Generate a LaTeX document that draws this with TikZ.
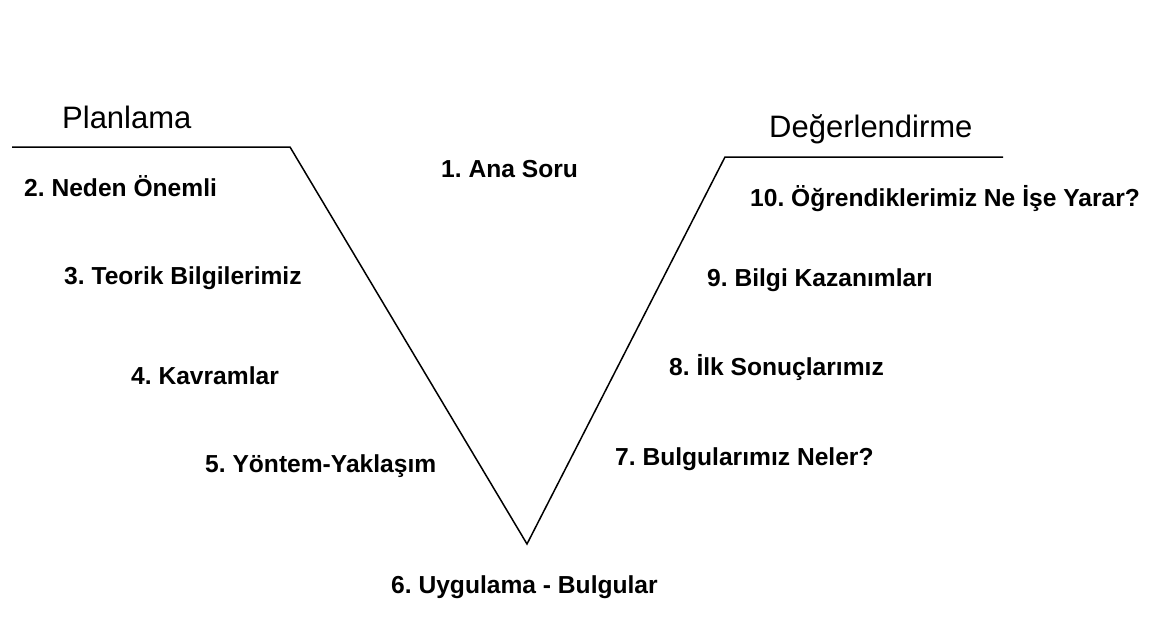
\documentclass[tikz,border=0pt]{standalone}
\usepackage{fontspec}
\setmainfont{Liberation Sans}
\frenchspacing
\begin{document}
\begin{tikzpicture}[x=1pt,y=-1pt,
  item/.style={anchor=base west,inner sep=0pt,font=\fontsize{24.6}{28}\selectfont\bfseries},
  head/.style={anchor=base west,inner sep=0pt,font=\fontsize{31}{34}\selectfont},
  vline/.style={draw=black,line width=1.5pt,line join=miter}]
\useasboundingbox[fill=white] (0,0) rectangle (1157,635);
\coordinate (p1) at (12,147);
\coordinate (p2) at (290,147);
\coordinate (p3) at (527,544);
\coordinate (p4) at (725,157);
\coordinate (p5) at (1003,157);
\draw[vline] (p1) -- (p2) -- (p3) -- (p4) -- (p5);
\node[head] (plan) at (62,128) {Planlama};
\node[head] (deg) at (769,137) {Değerlendirme};
\node[item] (n1) at (441,177) {1. Ana Soru};
\node[item] (n2) at (24,196) {2. Neden Önemli};
\node[item] (n3) at (64,284) {3. Teorik Bilgilerimiz};
\node[item] (n4) at (131,384) {4. Kavramlar};
\node[item] (n5) at (205,472) {5. Yöntem-Yaklaşım};
\node[item] (n6) at (391,593) {6. Uygulama - Bulgular};
\node[item] (n7) at (615,465) {7. Bulgularımız Neler?};
\node[item] (n8) at (669,375) {8. İlk Sonuçlarımız};
\node[item] (n9) at (707,286) {9. Bilgi Kazanımları};
\node[item] (n10) at (750,206) {10. Öğrendiklerimiz Ne İşe Yarar?};
\end{tikzpicture}
\end{document}
